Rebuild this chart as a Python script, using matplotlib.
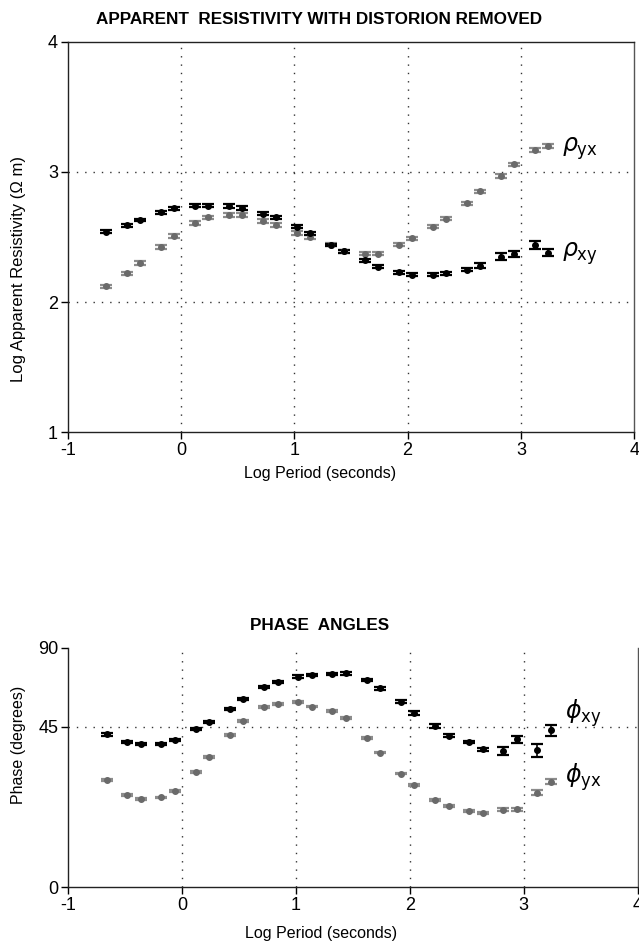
import numpy as np
import matplotlib
matplotlib.use("Agg")
import matplotlib.pyplot as plt

plt.rcParams['font.family'] = ['Liberation Sans', 'DejaVu Sans']
plt.rcParams['mathtext.fontset'] = 'dejavusans'
plt.rcParams['axes.unicode_minus'] = False

# ---------------- data ----------------
log_period = [-0.66, -0.48, -0.36, -0.18, -0.06, 0.12, 0.24, 0.42, 0.54, 0.72, 0.84,
              1.02, 1.14, 1.32, 1.44, 1.62, 1.74, 1.92, 2.04, 2.22, 2.34, 2.52, 2.64,
              2.82, 2.94, 3.12, 3.24]

rho_xy = [2.54, 2.59, 2.63, 2.69, 2.72, 2.74, 2.74, 2.74, 2.72, 2.68, 2.65,
          2.58, 2.53, 2.44, 2.39, 2.32, 2.27, 2.23, 2.21, 2.21, 2.22, 2.25, 2.28,
          2.35, 2.37, 2.44, 2.38]
rho_xy_err = [0.01, 0.01, 0.01, 0.01, 0.012, 0.012, 0.012, 0.015, 0.015, 0.012, 0.012,
              0.012, 0.012, 0.01, 0.01, 0.01, 0.012, 0.012, 0.012, 0.012, 0.012, 0.015, 0.018,
              0.025, 0.025, 0.03, 0.028]

rho_yx = [2.12, 2.22, 2.30, 2.42, 2.51, 2.61, 2.65, 2.67, 2.67, 2.62, 2.59,
          2.53, 2.50, 2.44, 2.39, 2.37, 2.37, 2.44, 2.49, 2.58, 2.64, 2.76, 2.85,
          2.97, 3.06, 3.17, 3.20]
rho_yx_err = [0.012, 0.012, 0.015, 0.015, 0.015, 0.015, 0.015, 0.015, 0.015, 0.015, 0.015,
              0.015, 0.015, 0.012, 0.012, 0.012, 0.012, 0.012, 0.012, 0.012, 0.012, 0.012, 0.012,
              0.013, 0.013, 0.013, 0.013]

phi_xy = [42.9, 40.9, 40.3, 40.3, 41.4, 44.4, 47.7, 55.3, 61.0, 67.6, 70.5,
          73.7, 74.6, 75.2, 75.6, 71.8, 67.0, 59.4, 53.1, 45.7, 42.6, 40.8, 38.7,
          38.2, 41.5, 38.4, 44.2]
phi_xy_err = [0.3, 0.3, 0.3, 0.3, 0.3, 0.3, 0.5, 0.5, 0.6, 0.6, 0.6,
              0.8, 0.8, 0.8, 0.8, 0.8, 0.8, 0.8, 1.0, 1.0, 0.3, 0.4, 0.5,
              1.07, 1.07, 1.9, 1.8]

phi_yx = [30.2, 25.9, 24.75, 25.2, 27.1, 32.3, 36.5, 42.8, 48.4, 56.2, 58.3,
          59.4, 56.6, 53.9, 50.1, 41.9, 37.8, 31.9, 28.6, 24.5, 22.8, 21.4, 20.9,
          21.7, 21.9, 26.5, 29.6]
phi_yx_err = [0.25, 0.25, 0.25, 0.25, 0.25, 0.25, 0.25, 0.25, 0.4, 0.5, 0.5,
              0.5, 0.5, 0.5, 0.5, 0.25, 0.25, 0.25, 0.25, 0.3, 0.3, 0.3, 0.3,
              0.4, 0.4, 0.7, 0.7]

x_ticks = [-1, 0, 1, 2, 3, 4]
rho_ticks = [1, 2, 3, 4]
phase_ticks = [0, 45, 90]

BLACK = '#000000'
GRAY_MK = '#6a6a6a'
GRAY_EB = '#8c8c8c'

fig = plt.figure(figsize=(6.39, 9.48), dpi=100)

# axes positions (fractions)
ax1 = fig.add_axes([0.106, 0.5443, 0.8865, 0.4114])
ax2 = fig.add_axes([0.1064, 0.0643, 0.8916, 0.2522])

dot = (0, (1, 5))


def draw_series(ax, x, y, e, mcolor, ecolor):
    ax.errorbar(x, y, yerr=e, fmt='o', color=mcolor, ms=4.0, mec=mcolor,
                ecolor=ecolor, elinewidth=1.2, capsize=4.2, capthick=1.6, zorder=3)


# ---------------- top: apparent resistivity ----------------
draw_series(ax1, log_period, rho_yx, rho_yx_err, GRAY_MK, GRAY_EB)
draw_series(ax1, log_period, rho_xy, rho_xy_err, BLACK, BLACK)
ax1.set_xlim(-1, 4)
ax1.set_ylim(1, 4)
ax1.set_xticks(x_ticks)
ax1.set_yticks(rho_ticks)
for v in [0, 1, 2, 3]:
    ax1.axvline(v, color='#333333', lw=1.0, ls=dot, zorder=1)
for v in [2, 3]:
    ax1.axhline(v, color='#333333', lw=1.0, ls=dot, zorder=1)
ax1.text(3.36, 3.18, r'$\rho_{\mathrm{yx}}$', fontsize=17, va='center', ha='left')
ax1.text(3.36, 2.37, r'$\rho_{\mathrm{xy}}$', fontsize=17, va='center', ha='left')
ax1.set_xlabel('Log Period (seconds)', fontsize=11.5)
ax1.set_ylabel('Log Apparent Resistivity (\u03a9 m)', fontsize=12)
ax1.xaxis.set_label_coords(0.445, -0.1055)
ax1.yaxis.set_label_coords(-0.087, 0.418)


# ---------------- bottom: phase ----------------
def fwd(v):
    v = np.asarray(v, dtype=float)
    return np.where(v <= 45, v * 60.25 / 45.0, 60.25 + (v - 45) * 29.75 / 45.0)


def inv(d):
    d = np.asarray(d, dtype=float)
    return np.where(d <= 60.25, d * 45.0 / 60.25, 45 + (d - 60.25) * 45.0 / 29.75)


ax2.set_yscale('function', functions=(fwd, inv))
draw_series(ax2, log_period, phi_yx, phi_yx_err, GRAY_MK, GRAY_EB)
draw_series(ax2, log_period, phi_xy, phi_xy_err, BLACK, BLACK)
ax2.set_xlim(-1, 4)
ax2.set_ylim(0, 90)
ax2.set_xticks(x_ticks)
ax2.set_yticks(phase_ticks)
ax2.yaxis.set_minor_locator(matplotlib.ticker.NullLocator())
for v in [0, 1, 2, 3]:
    ax2.axvline(v, color='#333333', lw=1.0, ls=dot, zorder=1)
ax2.axhline(45, color='#333333', lw=1.0, ls=dot, zorder=1)
ax2.text(3.36, 53.0, r'$\phi_{\mathrm{xy}}$', fontsize=17, va='center', ha='left')
ax2.text(3.36, 31.0, r'$\phi_{\mathrm{yx}}$', fontsize=17, va='center', ha='left')
ax2.set_xlabel('Log Period (seconds)', fontsize=11.5)
ax2.set_ylabel('Phase (degrees)', fontsize=11.5)
ax2.xaxis.set_label_coords(0.445, -0.193)
ax2.yaxis.set_label_coords(-0.087, 0.594)
ax2.spines['top'].set_visible(False)

# titles centred on the figure
fig.text(0.5, 1 - 19 / 948, 'APPARENT  RESISTIVITY WITH DISTORION REMOVED',
         fontsize=12.3, fontweight='bold', ha='center', va='center')
fig.text(0.5, 1 - 626 / 948, 'PHASE  ANGLES',
         fontsize=12.3, fontweight='bold', ha='center', va='center')

for ax in (ax1, ax2):
    ax.tick_params(axis='both', direction='out', length=5, width=1, labelsize=13, pad=2)
    for s in ax.spines.values():
        s.set_linewidth(1.0)
        s.set_color('#222222')
    ax.spines['right'].set_color('#555555')
    for lab in (ax.xaxis.label, ax.yaxis.label):
        lab.set_va('center')
        lab.set_ha('center')

fig.savefig('out.png', dpi=100)
